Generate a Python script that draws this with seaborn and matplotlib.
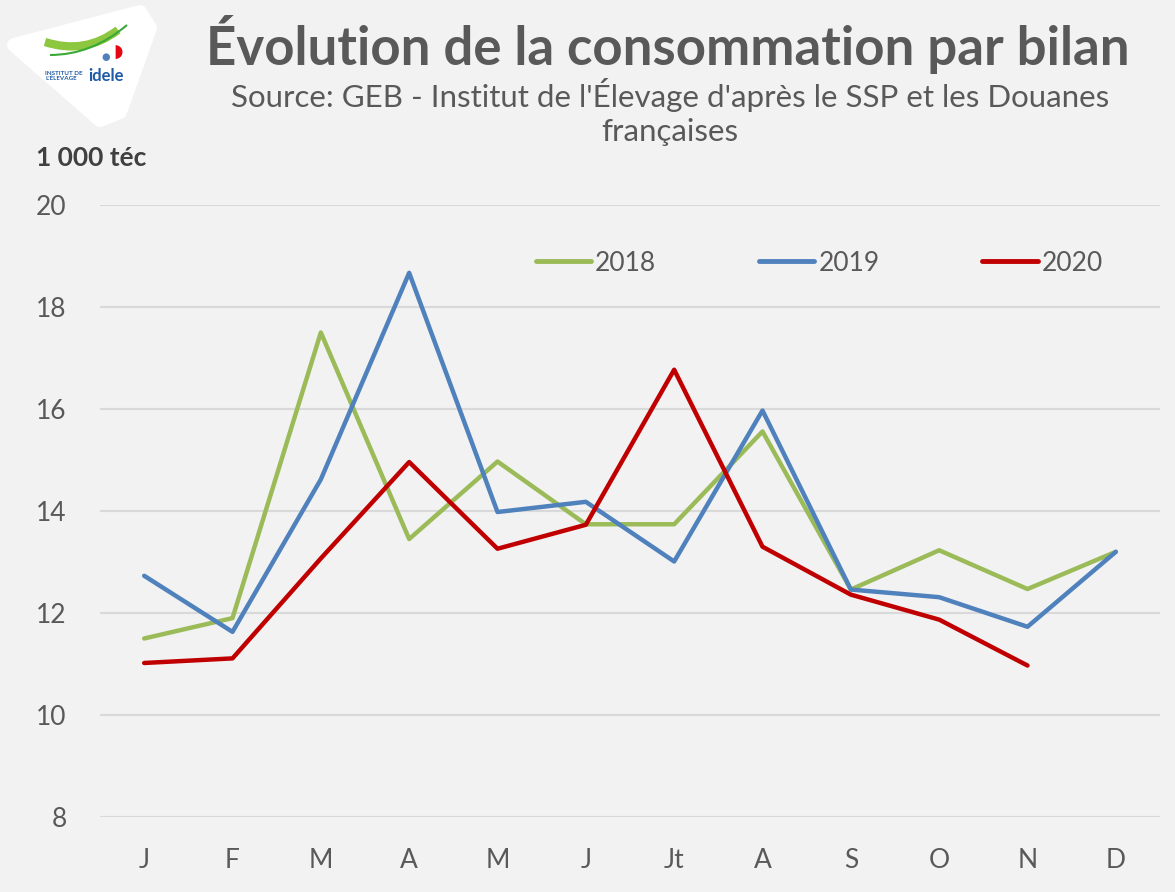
import matplotlib
matplotlib.use("Agg")
import matplotlib.pyplot as plt
import seaborn as sns
import pandas as pd
import numpy as np
from matplotlib.patches import Polygon, PathPatch
from matplotlib.path import Path

# ---- data ----
months = ["J", "F", "M", "A", "M", "J", "Jt", "A", "S", "O", "N", "D"]
years = ["2018", "2019", "2020"]
v2018 = [11.5, 11.9, 17.5, 13.45, 14.97, 13.74, 13.74, 15.56, 12.46, 13.23, 12.47, 13.2]
v2019 = [12.73, 11.63, 14.62, 18.67, 13.98, 14.18, 13.01, 15.97, 12.46, 12.31, 11.73, 13.2]
v2020 = [11.02, 11.11, 13.07, 14.96, 13.26, 13.73, 16.77, 13.3, 12.36, 11.87, 10.97, np.nan]
colors = ["#9BBB59", "#4F81BD", "#C00000"]
y_ticks = [8, 10, 12, 14, 16, 18, 20]

title = "Évolution de la consommation par bilan"
subtitle = "Source: GEB - Institut de l'Élevage d'après le SSP et les Douanes\nfrançaises"
unit = "1 000 téc"

rows = []
for yr, vals in zip(years, [v2018, v2019, v2020]):
    for i, v in enumerate(vals):
        rows.append({"pos": i, "value": v, "year": yr})
df = pd.DataFrame(rows).dropna()

sns.set_theme(style="white")
plt.rcParams["font.family"] = ["Lato", "DejaVu Sans"]

W, H = 1175, 892
fig = plt.figure(figsize=(W / 100, H / 100), dpi=100)
fig.patch.set_facecolor("#f2f2f2")

ax = fig.add_axes([100 / W, 1 - 817 / H, 1060 / W, (817 - 205) / H])
ax.set_facecolor("#f2f2f2")

sns.lineplot(data=df, x="pos", y="value", hue="year", palette=dict(zip(years, colors)),
             linewidth=3.2, ax=ax, sort=False, estimator=None)

ax.set_xlim(-0.5, len(months) - 0.5)
ax.set_ylim(8, 20)
ax.set_yticks(y_ticks)
ax.set_yticklabels([str(t) for t in y_ticks])
ax.set_xticks(range(len(months)))
ax.set_xticklabels(months)
ax.set_xlabel("")
ax.set_ylabel("")
ax.tick_params(axis="both", length=0, labelsize=19, labelcolor="#595959")
ax.tick_params(axis="y", pad=24)
ax.tick_params(axis="x", pad=22)
ax.grid(axis="y", color="#d9d9d9", linewidth=1.5)
ax.set_axisbelow(True)
for s in ax.spines.values():
    s.set_visible(False)

leg = ax.legend(loc="center left", bbox_to_anchor=(0.411, 0.905), ncol=3, frameon=False,
                fontsize=19, handlelength=2.1, handletextpad=0.15, columnspacing=3.9,
                borderaxespad=0, borderpad=0)
for t in leg.get_texts():
    t.set_color("#595959")
for h in leg.get_lines():
    h.set_linewidth(3.5)

# ---- titles ----
fig.text(668 / W, 1 - 45 / H, title, ha="center", va="center", fontsize=38,
         fontweight="bold", color="#595959")
fig.text(670 / W, 1 - 112 / H, subtitle, ha="center", va="center", fontsize=22.5,
         color="#595959", linespacing=1.28)
fig.text(36 / W, 1 - 158 / H, unit, ha="left", va="center", fontsize=19,
         fontweight="bold", color="#404040")

# ---- logo ----
logo = Polygon([(14 / W, 1 - 45 / H), (140 / W, 1 - 12 / H), (150 / W, 1 - 28 / H),
                (120 / W, 1 - 112 / H), (100 / W, 1 - 120 / H)],
               closed=True, transform=fig.transFigure, facecolor="white",
               edgecolor="white", joinstyle="round", linewidth=10)
fig.patches.append(logo)
verts = [(45 / W, 1 - 42 / H), (85 / W, 1 - 55 / H), (118 / W, 1 - 30 / H)]
sw = PathPatch(Path(verts, [Path.MOVETO, Path.CURVE3, Path.CURVE3]),
               transform=fig.transFigure, facecolor="none", edgecolor="#8DC63F", linewidth=6)
fig.patches.append(sw)
verts2 = [(50 / W, 1 - 55 / H), (92 / W, 1 - 55 / H), (127 / W, 1 - 25 / H)]
sw2 = PathPatch(Path(verts2, [Path.MOVETO, Path.CURVE3, Path.CURVE3]),
                transform=fig.transFigure, facecolor="none", edgecolor="#3AA935", linewidth=1.5)
fig.patches.append(sw2)
fig.text(118 / W, 1 - 52 / H, "◗", fontsize=13, color="#E30613", ha="center", va="center",
         family=["DejaVu Sans"])
fig.text(106 / W, 1 - 57 / H, "●", fontsize=7, color="#4F81BD", ha="center", va="center",
         family=["DejaVu Sans"])
fig.text(45 / W, 1 - 76 / H, "INSTITUT DE\nL'ÉLEVAGE", fontsize=4.5, fontweight="bold",
         color="#1F5AA6", ha="left", va="center", linespacing=1.0)
fig.text(88 / W, 1 - 76 / H, "idele", fontsize=12, fontweight="bold", color="#1F5AA6",
         ha="left", va="center")

fig.savefig("out.png", dpi=100, facecolor=fig.get_facecolor())
